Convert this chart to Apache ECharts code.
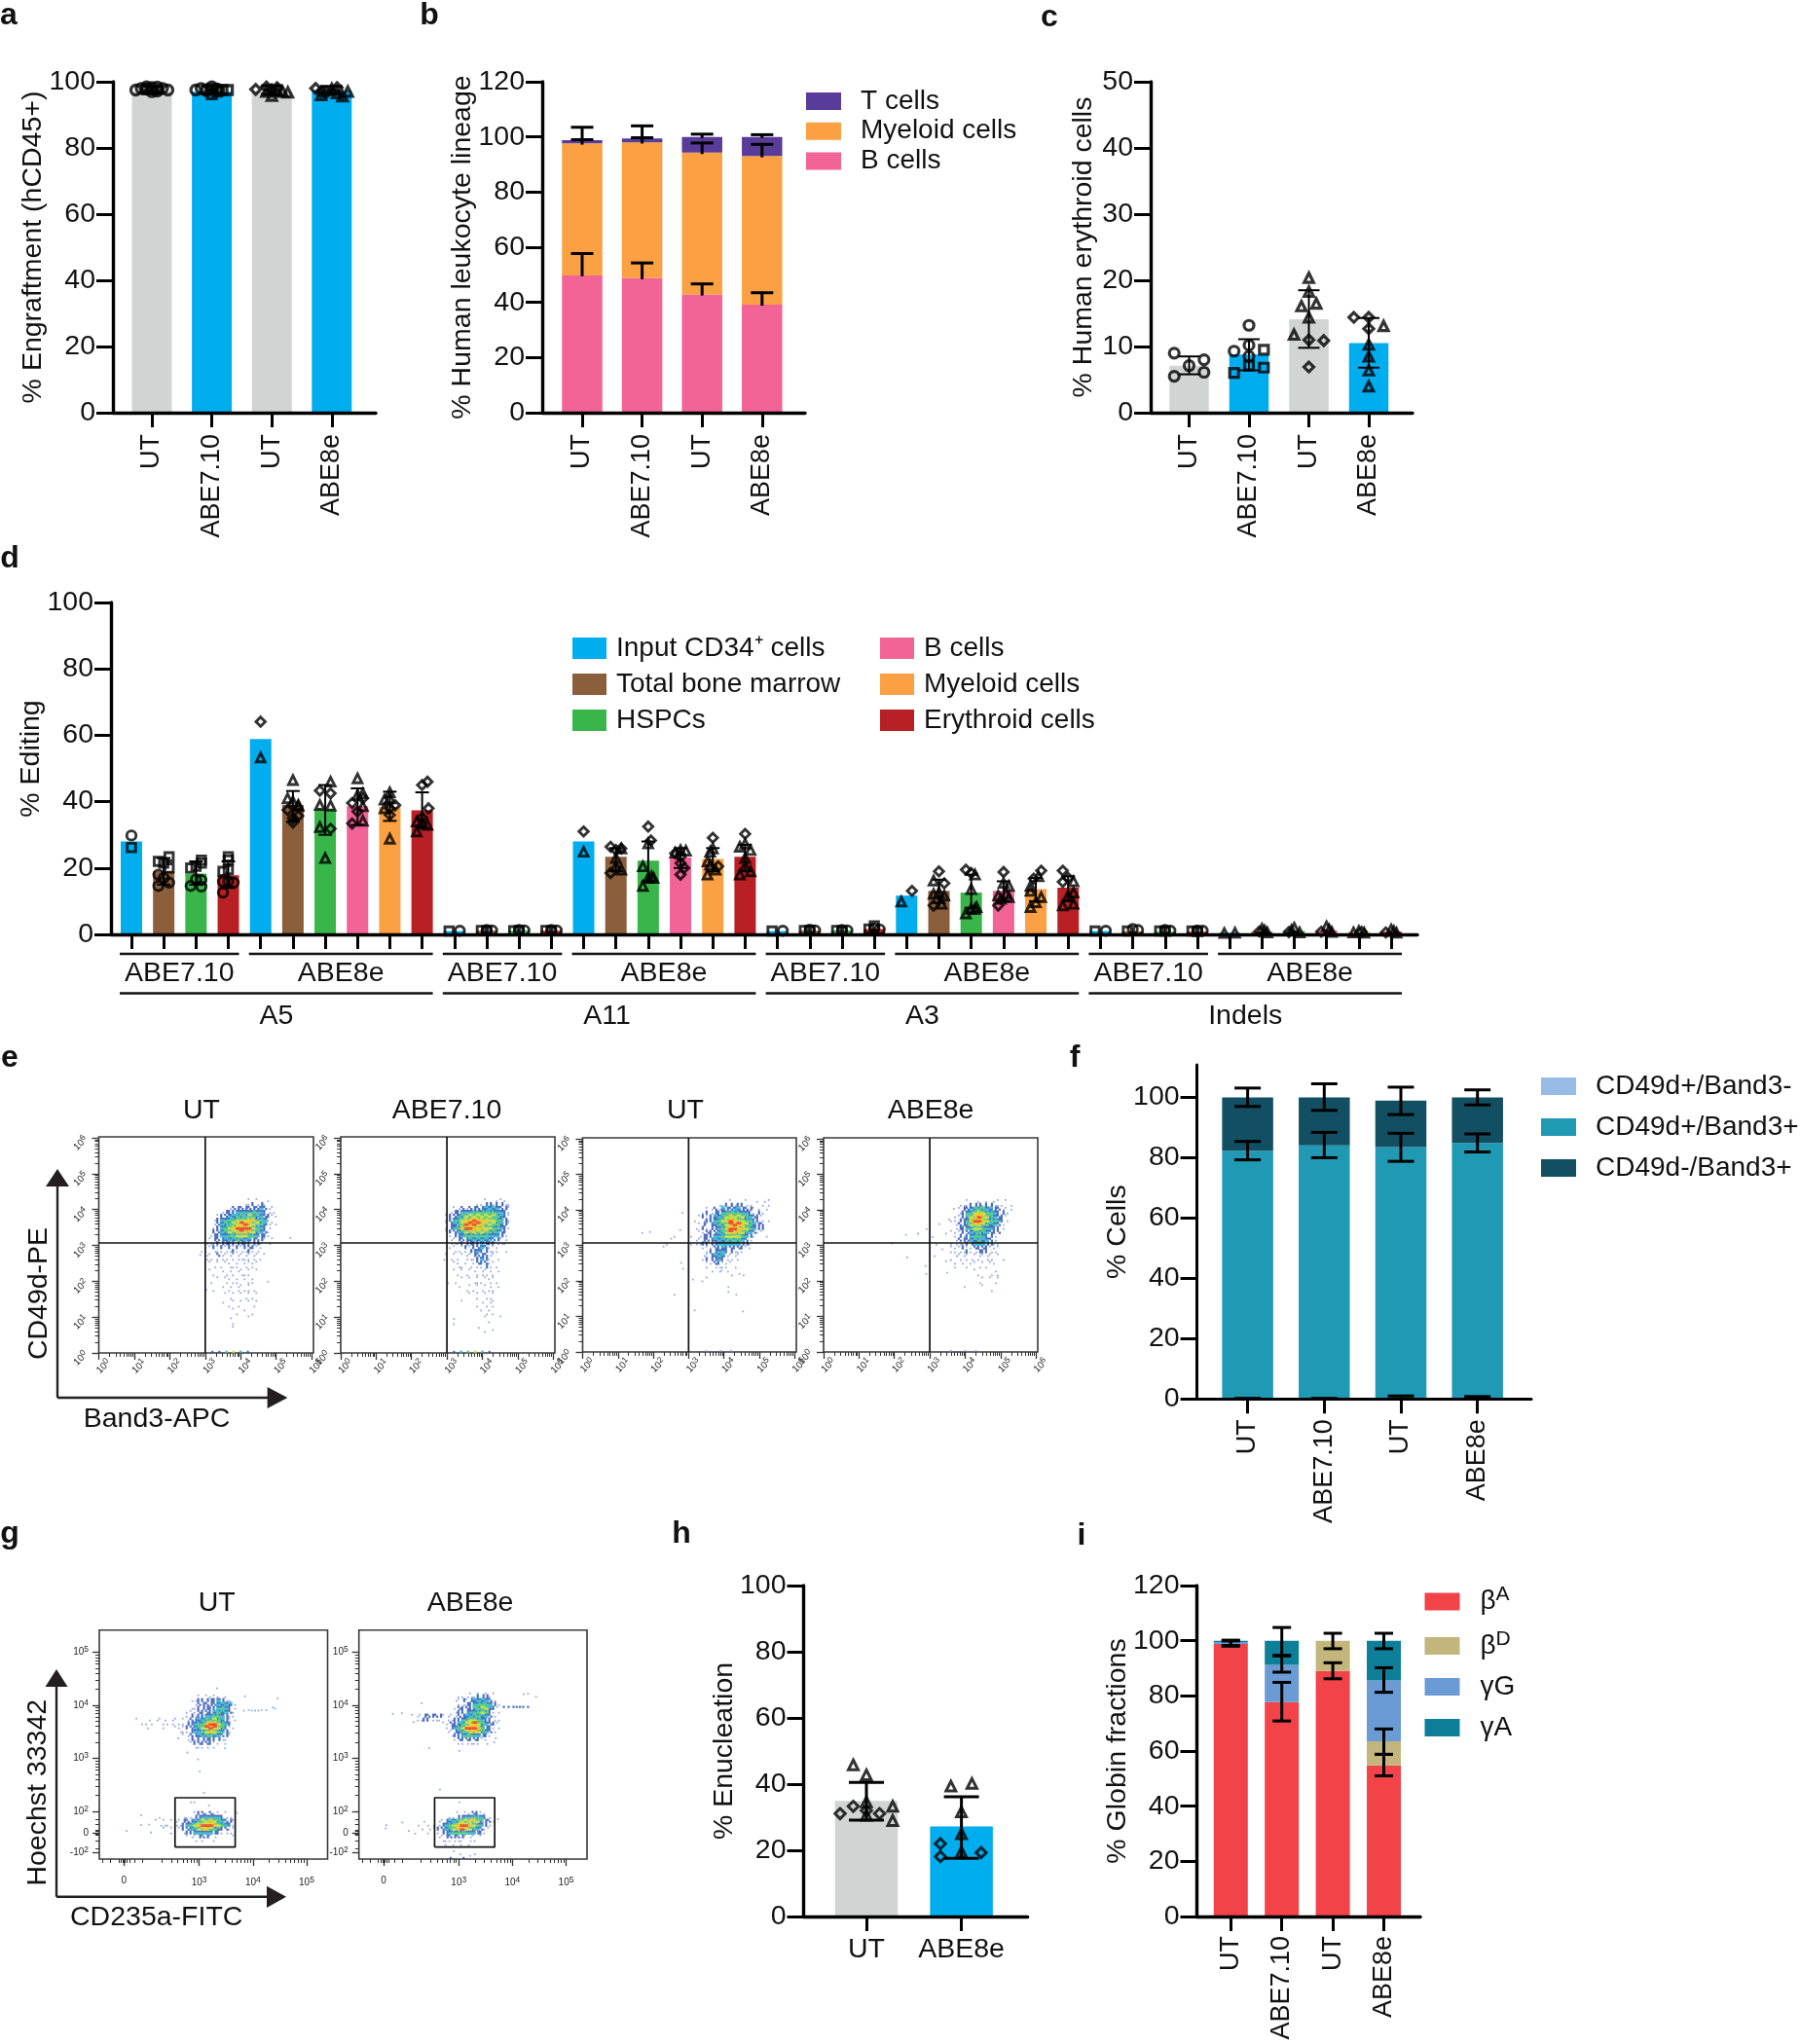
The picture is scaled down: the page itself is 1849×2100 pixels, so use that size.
<!DOCTYPE html>
<html><head><meta charset="utf-8">
<script src="https://cdn.jsdelivr.net/npm/echarts@6/dist/echarts.min.js"></script>
<style>html,body{margin:0;padding:0;background:#fff}#c{width:1849px;height:2100px}</style>
</head><body><div id="c"></div>
<script>
// ---------- categories ----------
const groups4 = ['UT','ABE7.10','UT','ABE8e'];
const groupsH = ['UT','ABE8e'];
const cellTypes = ['Input CD34\u207A cells','Total bone marrow','HSPCs','B cells','Myeloid cells','Erythroid cells'];
const slotTypes = [0,1,2,5,0,1,2,3,4,5];
const sites = ['A5','A11','A3','Indels'];

// ---------- panel a ----------
const aBars = [97,97,97,97.3];
const aCircle = [[0,-3,97.5],[0,-2,98],[0,-1,97.8],[0,0,98.3],[0,1,97.2],[0,2,98],[0,3,97.5],[0,0,97],[0,-1,98.5],[0,1,98.4],[1,-3,97.5],[1,-2,98],[1,-1,97.3],[1,0,98.5],[1,1,97.8]];
const aSquare = [[1,0,96.2],[1,1,97],[1,2,97.5],[1,3,97.5],[1,0,97.8]];
const aDiamond = [[2,-3,97.7],[2,-1,98.4],[2,0,97.6],[2,1,98.2],[3,-3,98],[3,-2,97],[3,-1,96.7],[3,1,98.2]];
const aTriangle = [[2,-1,97],[2,0,95.8],[2,1,97.3],[2,2,97],[2,3,96.8],[3,-2,96],[3,0,97.8],[3,1,96.6],[3,2,95.6],[3,3,97]];
const aErr = [[0,96.4,98.7],[1,96.3,98.8],[2,96.2,98.8],[3,96.2,98.6]];

// ---------- panel b ----------
const bB = [49.8,48.8,42.9,39.2];
const bM = [47.9,49.2,51.4,53.9];
const bT = [1.1,1.4,5.7,6.9];
const bErr = [[0,49.5,57.7,1],[1,48.4,54.3,1],[2,42.5,46.7,1],[3,38.8,43.5,1],[0,97.2,99,1],[1,97.6,99.7,1],[2,93.8,97.8,1],[3,92.6,97.3,1],[0,98.4,103.5,1],[1,99,104,1],[2,99.6,101,1],[3,99.6,100.8,1]];

// ---------- panel c ----------
const cBars = [7.1,8.8,14.1,10.5];
const cErr = [[0,5.8,8.5],[1,6.4,11.1],[2,9.8,18.5],[3,6.8,14.3]];
const cCircle = [[0,-1,9],[0,-1,5.5],[0,0,7.1],[0,1,8],[0,1,6.1],[1,0,13.2],[1,-1,9.3],[1,0,10.2],[1,0,8.5]];
const cSquare = [[1,1,9.5],[1,0,7.1],[1,1,6.8],[1,-1,6]];
const cTriangle = [[2,0,20.4],[2,0,18.3],[2,-0.5,16.1],[2,0.5,16.5],[2,0,14.4],[2,-1,11.8],[3,1,13.1],[3,0,10.3],[3,0,8.5],[3,0,6.4],[3,0,4]];
const cDiamond = [[2,0,11],[2,1,10.9],[2,0,6.9],[3,-1,14.4],[3,0,14.4],[3,0,12.7]];

// ---------- panel d ----------
const editA5 = [28,19,18.3,17.8,58.9,39,37.6,38.6,38.4,37.4];
const editA11 = [1,1.1,1.1,1.1,28,23.4,22.2,23.2,22.7,23.4];
const editA3 = [1,1.1,1.2,1.6,11.7,13.1,12.6,13.1,13.6,14.1];
const editIndels = [1,0.9,0.8,0.8,0.5,0.8,1,1.2,0.7,0.8];
const dErr = [[1,15,23],[2,15,22],[3,14,22],[5,34,43.2],[6,30,45],[7,33,44],[8,34.2,43],[9,32,42.8],
 [15,19,26],[16,16,28],[17,20,26],[18,19,26],[19,19,27],[25,9.5,16.5],[26,8,18],[27,10,16],[28,10,17],[29,10,17.5]];
const dCircle = [[0,0,29.8],[1,-1,18],[1,-1,14.6],[1,1,15.6],[1,0,17],[2,-1,14.6],[2,1,14.4],[2,1,16.4],[2,0,16.6],[3,-1,12.6],[3,-1,15.9],[3,1,15.6],[3,0,16],
 [10,1,1.1],[11,1,1.2],[11,0,1.3],[12,1,1.2],[12,0,1.3],[13,1,1.2],[13,0,1.3],[20,1,1.1],[21,1,1.2],[21,0,1.4],[22,1,1.2],[22,0,1.3],[23,1,1.5],[23,0,1.8],
 [30,1,1.1],[31,1,1.3],[31,0,1.6],[32,1,1.1],[32,0,1.3],[33,1,1.1],[33,0,1.2]];
const dSquare = [[0,0,26.2],[1,-1,22],[1,1,23.4],[1,1,20],[1,0,21.5],[2,-1,20],[2,1,22.4],[2,1,21.5],[2,0,20.5],[3,0,23.4],[3,0,22.4],[3,0,19.5],[3,-1,19],
 [10,-1,1],[11,-1,1.2],[11,0,1.1],[12,-1,1.1],[12,0,1.2],[13,-1,1.2],[13,0,1.1],[20,-1,1],[21,-1,1.2],[21,0,1.2],[22,-1,1.2],[22,0,1.1],[23,-1,1.6],[23,0,2.6],
 [30,-1,1],[31,-1,1],[32,-1,1],[32,0,1],[33,-1,1],[33,0,0.9]];
const dTriangle = [[4,0,53.3],[5,0,46.5],[5,-1,41],[5,1,39],[5,1,38.6],[5,0,40],[6,1,46],[6,-1,39],[6,1,38.8],[6,-1,32.3],[6,0,23],[7,0,47],[7,1,42.5],[7,1,38.6],[7,1,34.2],[7,0,42],[8,0,42.8],[8,-1,40.6],[8,0,28.8],[8,0,41],[8,-1,38],[9,-1,31],[9,1,33],[9,0,33.7],[9,-1,34],
 [14,0,24.9],[15,0,23],[15,1,19.5],[15,0,20.5],[15,1,25.9],[16,0,27.4],[16,-1,20.5],[16,-1,14.6],[16,0,17],[16,1,17],[16,0.6,17.5],[17,-1,24.6],[17,1,25.2],[17,0,25.4],[18,0,25.9],[18,-0.5,24.9],[18,-1,22],[18,-1,18],[18,0.5,19.5],[18,-0.5,21],[19,-1,26.4],[19,1,25.4],[19,0,27.3],[19,0,23],[19,-1,18],[19,1,19],[19,0,20.5],
 [24,-1,9.9],[25,-1,16.2],[25,0,12.6],[25,1,11.7],[25,-1,12.2],[25,0.5,9.2],[26,0.7,18],[26,0,13.6],[26,1,8.2],[26,0,7.7],[26,-1,6.3],[26,0.7,7.7],[27,1,14.6],[27,0,15.5],[27,-1,11.7],[27,0.5,12.2],[27,1,11.2],[27,-0.5,10.7],[28,0.5,17.5],[28,-1,13.1],[28,1,11.2],[28,0,9.7],[28,-1,8.2],[28,-1,14.6],[29,1,16],[29,1,12.6],[29,0,11.7],[29,-1,8.7],[29,1,9.2],
 [34,-1,0.4],[34,1,0.5],[35,0,1.7],[35,0.5,1.2],[35,1,0.6],[36,0,2],[36,-0.5,1.3],[36,1,0.6],[37,0,2.4],[37,0.5,1.5],[37,1,0.7],[38,0,1],[38,1,0.5],[38,-1,0.6],[39,0,1.5],[39,0.5,1],[39,1,0.5]];
const dDiamond = [[4,0,64.1],[5,-1,37.5],[5,0,33.7],[5,0,35],[5,1,35.7],[6,-1,43.3],[6,1,42.5],[6,1,31.8],[7,-1,39.6],[7,-1,33.4],[7,0,37],[7,1,41],[8,1,38.9],[8,0,36],[8,0,38],[9,1,46],[9,0,45],[9,1.2,38],[9,0,35.2],
 [14,0,31],[15,-1,26.4],[15,1,25.9],[15,-1,18.5],[15,0,25.4],[16,0,32.5],[16,0.5,28.3],[17,-1,24.4],[17,0,21.5],[17,0,18],[17,0.7,20],[17,0,23.4],[18,0,29.1],[18,1,20.5],[19,0,30.3],
 [24,1,13.1],[25,0,19],[25,1,15.4],[25,-1,8.7],[26,-1,19.5],[26,0,18.5],[27,0,18.8],[27,-1,8.7],[28,1,19.2],[28,-0.4,16.8],[29,-1,19.2],[29,-1,15.8],[29,0,17],
 [35,-0.5,0.9],[36,-1,0.7],[37,-1,0.8],[38,0.5,0.8],[39,-1,0.6]];

// ---------- panel f ----------
const fA = [0.1,0.1,0.3,0.2];
const fB = [82.2,84,83.2,84.7];
const fC = [17.7,15.9,15.4,15.1];
const fErr = [[0,0,0.2],[1,0,0.2],[2,0,1],[3,0,0.8],[0,79.3,85.4],[1,80,88.4],[2,78.8,88.1],[3,81.9,87.9],[0,97,103.1],[1,95.7,104.5],[2,94.3,103.4],[3,97.5,102.5]];

// ---------- panel h ----------
const hBars = [34.9,27.2];
const hErr = [[0,29.1,40.5],[1,17.6,36.2]];
const hTriangle = [[0,-1,45.8],[0,0,42.8],[0,2,33.3],[0,2,29],[0,0,34.6],[0,0,30.6],[1,-0.8,39.4],[1,0.8,40.2],[1,0,31.6],[1,0,25],[1,0,19.5]];
const hDiamond = [[0,-2,31.1],[0,-1,33.3],[0,1,31.1],[0,0,32],[1,-1.6,22],[1,-1.6,18.1],[1,1.5,19.3]];

// ---------- panel i ----------
const iBA = [98.8,77.7,89,54.8];
const iBD = [0,0,11,8.7];
const iGG = [0.7,13.5,0,22.1];
const iGA = [0.5,8.8,0,14.4];
const iErr = [[0,98,99.9],[0,98.3,100.2],[1,70.9,84.9],[1,88.6,94.5],[1,94.7,104.8],[2,86.2,92],[2,97.1,102.7],[3,51,58.8],[3,58.8,68],[3,81.3,90.2],[3,97.1,102.7]];

// ---------- flow cytometry density (digit = density level, 0 = empty) ----------
const e1Rows = ["00000000000010100100","00000000000112121000","00000001222222232110","00000122233334332110","00001223344454432210","00012334455566443100","00012344567765543110","00012345677775432100","00022345567665432100","00122334455544322100","00122233343332221010","01112222222222210100","01121212121222110000","11011111211121100000","01102111111111101000","01101110111111010000","00101011010111100000","00010101110101000000","00100101011010100000","00010010101110000000","00001011010101000000","00100010110011000000","00000101011010000000","00010001010111000000","00000010101010100000","00000001000101000000","00000100101010100000","00000001010001000000","00000000100100000000","00000000010001000000","00000001000010000000","00000000000000000000","00000000100000000000"];
const e1Dots = [[5.4,3.21],[4.99,3.8],[4.99,3.58],[4.77,1.99],[2.86,2.73],[3.03,1.76],[3.78,0.73],[3.2,0.03,2],[3.4,0.03,2],[3.6,0.03,4],[3.8,0.03,5],[4,0.03,3],[4.2,0.03,2]];
const e2Rows = ["00000000001001110","00000000112212211","00112122223333221","01223334444443321","12234555555554321","12345667666554421","12345777765554321","12346776665544321","12234556555443220","01223444444333210","01122233333322110","01112222232221110","01101212232111000","00110122322111010","10101112222110000","01010111232101000","00110101222110000","00011010112101000","00101011011101000","00010100111010000","00001010101110000","00100001110101000","00010010101101000","00000101010110000","00000010101010000","00000000101100000","00001000010110000","00000000101010000","00000000010100000","00000000001010000","00000000001000100","00000000000100000","00100000000000000","00000000000010000","00000000001000000"];
const e2Dots = [[2.93,2.6],[3.03,1.95],[3.2,0.95],[3.9,0.7],[4.35,3.9],[3.2,0.03,2],[3.4,0.03,3],[3.6,0.03,4],[3.8,0.03,5],[4,0.03,3],[4.2,0.03,2]];
const e3Rows = ["0000000000100010010110","0000000112212211001010","0000112132233222110100","0001212234444332121000","0012123345655543221000","0101223456765544221010","0012123445777654322000","0102122346776654322000","0011222345766543211000","1012223345555432100100","0112223334444321000000","1112222333333221000000","0001112232222211000000","0000122332211100000000","0001123331111000000000","0001222321101000000000","0000112211100000000000","0000101111010000000000","0000010101000000000000","0000000000100100000000","0000100000000000000000"];
const e3Dots = [[2.83,3.92],[1.91,3.38],[1.69,3.35],[2.76,3.43],[2.6,3.24],[2.51,3.19],[2.38,3.02],[2.29,2.97],[2.79,2.51],[2.84,2.34],[2.6,1.61],[3.17,1.17],[4.54,1.14],[3.12,2.04],[3.39,1.99],[4.13,1.83],[4.13,1.69],[4.35,1.61],[3.94,2.29],[4.44,2.2],[3.5,0.03],[3.9,0.03],[4.2,0.03]];
const e4Rows = ["0000100101011010","0011122212211101","0012234443322111","0012345654432210","0112456765432210","1122367765443210","0122456654332100","0122345543322100","1112234443222000","0121234432210000","0122233433210000","1111223332211000","1112112222111000","1111211222110000","0111101111101000","1010110101100100","0101011010110000","0100100101000000","0000001000010000","0000000100101000","0000000010101000","0000000100010000","0001000010000000","0000000000100000"];
const e4Dots = [[1.94,3.06],[2.33,3.3],[2.67,3.33],[2.36,2.66],[2.91,3.46],[2.88,2.42],[2.9,2.2],[3.08,3.24],[3.27,3.6],[3.46,3.33],[3.19,3.02],[3.36,2.89],[3.13,2.7],[3.46,2.56],[3.49,2.23],[3.55,3.73],[3.68,4.03],[3.6,0.03],[4,0.03],[4.3,0.03]];
const g1Upper = ["000000000000000010111101000","000000000000001122222321100","000000000000000122222333310","000000000000001122222343210","000000000000011122223433210","000000000000012122334432110","100101110110112233445432110","011010011101122344677543200","000100010011122345777542110","000000000001112334565432100","000000000000112233443322100","000000000000012122222211000","000000000000001222221101000","000000000000000111101000000"];
const g1Lower = ["000000000012212110100","010000011122333332110","101011122234556543221","011101123456777654321","001010122345665432211","000010012233333221110","000000001112221100001","000000000010100100000"];
const g1Dots = [[3.83,3.9],[3.92,3.91],[3.98,3.9],[4.04,3.9],[4.1,3.9],[4.16,3.91],[4.25,3.91],[4.37,3.96],[4.41,3.94],[4.46,4.13],[3.85,4.17],[3.33,4.32],[2.61,3.38],[2.78,3.11],[2.98,2.98],[3.01,2.75],[3.09,2.35],[3.48,3.19],[1.92,1.93],[1.92,1.74],[1.65,1.63],[2.07,1.75],[2.1,1.6],[2.85,2.17],[2.91,2.17],[3.18,2.11],[3.7,1.97]];
const g2Upper = ["00000000000000010101010","00000000000011111222100","00000000000112123333210","00000000000011223444321","00000000000122224455321","00000000000122233454211","11122222111122334433210","01122111011223455432211","00000000112234567543221","00000000012345777642211","00000000011234566543210","00000000001223443322100","00000000000122222211000","00000000000011111101000"];
const g2Lower = ["00000000001011221100","00000000112233443210","01000112334556654221","10101123456776543210","01011223456765432110","00100122344443322100","00000112222211101000","00000011111101100000","00000001010101000000"];
const g2Dots = [[3.84,3.97,2],[3.93,3.97,2],[4.02,3.97,2],[4.08,3.97,2],[4.14,3.97,2],[4.2,3.97,2],[4.29,3.97,2],[4.29,4.22],[4.21,4.21],[4.44,4.16],[1.77,3.84],[1.94,3.85],[2.31,4.04],[2.16,3.68],[2.45,3.19],[3.01,3.14],[3.66,3.3],[3.69,3.38],[2.65,2.41],[1.65,1.74],[1.64,1.68],[1.95,1.79],[2.07,1.63],[2.19,1.58],[3.01,2.17],[3.73,1.85],[2.91,1.25],[3.03,1.19],[3.21,1.16],[3.3,1.19],[2.85,1.12,2],[3.09,1.12,2]];
const eQuadX = 3, eQuadY = 3.07;
const gGateX = [2.55,3.67], gGateY = [1.327,2.257];

// ---------- styles ----------
const FONT = '"Liberation Sans", Arial, sans-serif';
const FS = 28.5, FSX = 27, FSL = 28;
const GREY='#d2d3d3', BLUE='#00aeef';
const barColors4 = [GREY,BLUE,GREY,BLUE];
const typeColors = ['#00aeef','#8b5e3c','#39b54a','#f26496','#fba043','#b92025'];
const LEVEL = [null,'#7f96d6','#1f47ad','#2fb0d2','#45c47f','#c3dd39','#f5c11c','#ee3a1d'];
const LEVEL_SIZE = [0,1.8,2.2,2.7,2.7,2.7,2.7,2.7];

const option = {
  animation:false, backgroundColor:'#fff',
  textStyle:{fontFamily:FONT,color:'#111'},
  grid:[], xAxis:[], yAxis:[], series:[], legend:[], graphic:{elements:[]}
};
const G = option.graphic.elements;
function txt(x,y,text,size,rot,bold){
  G.push({type:'text',x,y,rotation:rot||0,z:20,silent:true,style:{text,x:0,y:0,fill:'#111',
    font:(bold?'bold ':'')+size+'px '+FONT,textAlign:'center',textVerticalAlign:'middle'}});
}
function seg(x1,y1,x2,y2,w,c){
  G.push({type:'line',z:20,silent:true,shape:{x1,y1,x2,y2},style:{stroke:c||'#111',lineWidth:w}});
}
function tri(points){ G.push({type:'polygon',z:20,silent:true,shape:{points},style:{fill:'#231f20'}}); }
function range(a,b,s){const o=[];for(let v=a;v<=b+1e-9;v+=s)o.push(v);return o;}

function errorSeries(data,xi,yi,cap,lw){
  return {type:'custom',xAxisIndex:xi,yAxisIndex:yi,z:7,silent:true,clip:false,data,
    encode:{x:0,y:[1,2]},
    renderItem(p,api){
      const x=api.value(0),lo=api.coord([x,api.value(1)]),hi=api.coord([x,api.value(2)]),noLow=api.value(3)===1;
      const st={stroke:'#000',lineWidth:lw};
      const ch=[{type:'line',shape:{x1:hi[0],y1:hi[1],x2:lo[0],y2:lo[1]},style:st},
                {type:'line',shape:{x1:hi[0]-cap,y1:hi[1],x2:hi[0]+cap,y2:hi[1]},style:st}];
      if(!noLow) ch.push({type:'line',shape:{x1:lo[0]-cap,y1:lo[1],x2:lo[0]+cap,y2:lo[1]},style:st});
      return {type:'group',children:ch};
    }};
}
function pointSeries(name,symbol,pts,cfg,xi,yi){
  const u = cfg.colPx/cfg.step;
  const sz = symbol==='triangle' ? cfg.sym*0.95 : symbol==='rect' ? cfg.sym*0.9 : cfg.sym;
  return {type:'scatter',name,xAxisIndex:xi,yAxisIndex:yi,z:8,silent:true,clip:false,symbol,symbolSize:sz,
    itemStyle:{color:'rgba(0,0,0,0)',borderColor:'#000',borderWidth:cfg.symW||2.6},
    data:pts.map(p=>[p[0]+p[1]*u,p[2]])};
}
// frame grid (axes lines, y axis, points, error bars) + band grid (bars, category ticks and labels)
function panel(cfg){
  const gf=option.grid.length;
  const h=cfg.B-cfg.T;
  option.grid.push({left:cfg.L,top:cfg.T,width:cfg.R-cfg.L,height:h});
  const n=cfg.cats.length;
  option.grid.push({left:cfg.first-cfg.step/2,top:cfg.T,width:cfg.step*n,height:h});
  const xf=option.xAxis.length, yf=option.yAxis.length;
  const lw=cfg.axisW||3.4;
  option.xAxis.push({gridIndex:gf,type:'value',min:(cfg.L-cfg.first)/cfg.step,max:(cfg.R-cfg.first)/cfg.step,z:6,
    axisLine:{show:true,onZero:false,lineStyle:{color:'#000',width:lw}},axisTick:{show:false},axisLabel:{show:false},splitLine:{show:false}});
  option.yAxis.push({gridIndex:gf,type:'value',min:0,max:cfg.max,z:6,
    axisLine:{show:true,onZero:false,lineStyle:{color:'#000',width:lw}},
    axisTick:{show:true,length:17,customValues:cfg.ticks,lineStyle:{color:'#000',width:3}},
    axisLabel:{customValues:cfg.ticks,margin:18,fontSize:FS,color:'#111',fontFamily:FONT},
    splitLine:{show:false},
    name:cfg.title,nameLocation:'middle',nameGap:cfg.nameGap,nameRotate:90,nameMoveOverlap:false,
    nameTextStyle:{fontSize:FS,color:'#111',fontFamily:FONT,padding:cfg.namePad||0}});
  option.xAxis.push({gridIndex:gf+1,type:'category',data:cfg.cats,z:6,
    axisLine:{show:false},
    axisTick:{show:true,alignWithLabel:true,interval:0,length:15,lineStyle:{color:'#000',width:3}},
    axisLabel:cfg.noLabels?{show:false}:{interval:0,rotate:cfg.rot===undefined?90:cfg.rot,margin:cfg.labelMargin||22,fontSize:cfg.rot===0?FS:FSX,color:'#111',fontFamily:FONT},
    splitLine:{show:false}});
  option.yAxis.push({gridIndex:gf+1,type:'value',min:0,max:cfg.max,show:false,splitLine:{show:false}});
  cfg.bars.forEach(b=>{
    option.series.push({type:'bar',name:b.name,stack:'s'+gf,xAxisIndex:xf+1,yAxisIndex:yf+1,z:2,
      barWidth:cfg.barW,silent:true,itemStyle:{color:b.color},
      data:b.colors?b.data.map((v,i)=>({value:v,itemStyle:{color:b.colors[i]}})):b.data});
  });
  if(cfg.err) option.series.push(errorSeries(cfg.err,xf,yf,cfg.cap,cfg.errW||3));
  (cfg.points||[]).forEach(p=>option.series.push(pointSeries(p[0],p[1],p[2],cfg,xf,yf)));
}
function makeLegend(names,left,top,w,h,gap,pad,extra){
  option.legend.push(Object.assign({data:names,left,top,orient:'vertical',padding:0,itemGap:gap,itemWidth:w,itemHeight:h,
    icon:'rect',selectedMode:false,align:'left',
    textStyle:{fontSize:FSL,color:'#111',fontFamily:FONT,lineHeight:h,padding:[0,0,0,pad]}},extra||{}));
}

// flow panels
function logMinors(a,b){const o=[];for(let d=a;d<b;d++)for(let k=2;k<10;k++)o.push(d+Math.log10(k));return o;}
// each density cell becomes a few tiny dots on a 2x2 sub-lattice, so that dense regions look speckled as in the picture
function cellsOf(rows,x0,y0,dx,dy){
  const out=[]; const subs=[[0,0],[.5,.5],[.5,0],[0,.5]];
  rows.forEach((row,r)=>[...row].forEach((ch,c)=>{
    const l=+ch; if(!l) return;
    const count=l===1?1:l===2?2:4, start=(r*r*3+c*c*7+r*c)%4;
    for(let k=0;k<count;k++){
      const s=subs[(start+k)%4];
      const lv=l>=3?(k===3?Math.max(2,l-2):k===1?l-1:l):l;
      out.push([x0+(c+s[0])*dx,y0-(r+s[1])*dy,lv]);
    }
  }));
  return out;
}
function flowPanel(cfg){
  const gi=option.grid.length;
  option.grid.push({show:true,left:cfg.L,top:cfg.T,width:cfg.R-cfg.L,height:cfg.B-cfg.T,borderColor:'#3a3a3a',borderWidth:1.6,backgroundColor:'transparent'});
  const xi=option.xAxis.length, yi=option.yAxis.length;
  const common=(fmt,rot,margin,extraLabel)=>({fontSize:9,color:'#222',rotate:rot,margin,formatter:fmt,fontFamily:FONT,
     rich:{b:{fontSize:cfg.lab,color:'#222',fontFamily:FONT},s:{fontSize:cfg.lab-1.5,color:'#222',verticalAlign:'top',padding:[0,0,5,0],fontFamily:FONT}},...extraLabel});
  const tickStyle={color:'#333',width:1.3};
  option.xAxis.push({gridIndex:gi,type:'value',min:cfg.xr[0],max:cfg.xr[1],splitLine:{show:false},axisLine:{show:false,onZero:false},
    axisTick:{show:true,length:7,customValues:cfg.xMajor,lineStyle:tickStyle},
    axisLabel:{customValues:cfg.xMajor,...common(cfg.fmt,cfg.rotX,cfg.marginX,cfg.labelX)}});
  option.yAxis.push({gridIndex:gi,type:'value',min:cfg.yr[0],max:cfg.yr[1],splitLine:{show:false},axisLine:{show:false,onZero:false},
    axisTick:{show:true,length:7,customValues:cfg.yMajor,lineStyle:tickStyle},
    axisLabel:{customValues:cfg.yMajor,...common(cfg.fmt,cfg.rotY,cfg.marginY,cfg.labelY)}});
  option.xAxis.push({gridIndex:gi,type:'value',min:cfg.xr[0],max:cfg.xr[1],position:'bottom',splitLine:{show:false},axisLine:{show:false,onZero:false},
    axisTick:{show:true,length:4,customValues:cfg.xMinor,lineStyle:{color:'#333',width:1}},axisLabel:{show:false}});
  option.yAxis.push({gridIndex:gi,type:'value',min:cfg.yr[0],max:cfg.yr[1],position:'left',splitLine:{show:false},axisLine:{show:false,onZero:false},
    axisTick:{show:true,length:4,customValues:cfg.yMinor,lineStyle:{color:'#333',width:1}},axisLabel:{show:false}});
  let pts=[];
  cfg.blocks.forEach(b=>pts=pts.concat(cellsOf(b.rows,b.x,b.y,cfg.dx,cfg.dy)));
  pts=pts.concat(cfg.dots.map(d=>[d[0],d[1],d[2]||1]));
  pts.sort((a,b)=>a[2]-b[2]);
  option.series.push({type:'scatter',xAxisIndex:xi,yAxisIndex:yi,z:3,silent:true,clip:true,symbol:'rect',
    symbolSize:v=>LEVEL_SIZE[v[2]],itemStyle:{color:p=>LEVEL[p.value[2]]},data:pts,encode:{x:0,y:1}});
  cfg.gates.forEach(g=>option.series.push({type:'line',xAxisIndex:xi,yAxisIndex:yi,z:4,silent:true,symbol:'none',
    lineStyle:{color:'#111',width:1.7},data:g}));
}

// ---------- build panels ----------
const hollow=(c,s,t,di)=>[['Circle','circle',c],['Square','rect',s],['Triangle','triangle',t],['Diamond','diamond',di]].filter(x=>x[2]).map(x=>[x[0],x[1],x[2]]);
panel({L:116,R:386,T:84,B:424,first:156,step:61.6,barW:41,cats:groups4,max:100,ticks:range(0,100,20),title:'% Engraftment (hCD45+)',nameGap:67,
  bars:[{name:'Engraftment',data:aBars,colors:barColors4}],err:aErr,cap:11,colPx:5.5,sym:10,symW:3.3,points:hollow(aCircle,aSquare,aTriangle,aDiamond)});
panel({L:557,R:827,T:84,B:424,first:598,step:61.6,barW:41.5,cats:groups4,max:120,ticks:range(0,120,20),title:'% Human leukocyte lineage',nameGap:67,
  bars:[{name:'B cells',data:bB,color:'#f26496'},{name:'Myeloid cells',data:bM,color:'#fba043'},{name:'T cells',data:bT,color:'#593c9a'}],err:bErr,cap:11.5,colPx:5});
panel({L:1182,R:1451,T:84,B:424,first:1221.5,step:61.5,barW:40.5,cats:groups4,max:50,ticks:range(0,50,10),title:'% Human erythroid cells',nameGap:54,
  bars:[{name:'Erythroid',data:cBars,colors:barColors4}],err:cErr,cap:11,errW:2,colPx:15.3,sym:10,symW:3.2,points:hollow(cCircle,cSquare,cTriangle,cDiamond)});

const dCats=[]; const dVals=[editA5,editA11,editA3,editIndels];
sites.forEach(s=>slotTypes.forEach((t,i)=>dCats.push(s+' '+(i<4?'ABE7.10':'ABE8e')+' '+cellTypes[t])));
const dBars=cellTypes.map((name,t)=>({name,color:typeColors[t],data:dVals.flatMap(g=>g.map((v,i)=>slotTypes[i]===t?v:null))}));
const dFirst=135,dStep=33.18;
panel({L:114,R:1456,T:619,B:960,first:dFirst,step:dStep,barW:22,cats:dCats,max:100,ticks:range(0,100,20),title:'% Editing',nameGap:67,namePad:[0,0,0,20],noLabels:true,
  bars:dBars,err:dErr,cap:7,errW:2,colPx:5.5,sym:9.5,symW:2.9,points:hollow(dCircle,dSquare,dTriangle,dDiamond)});
// bracket lines and group names for panel d
const tickPx=i=>dFirst+i*dStep;
const siteLabelShift=[0,8,0,0];
sites.forEach((s,k)=>{
  const o=k*10;
  const a1=tickPx(o)-12,a2=tickPx(o+3)+11,b1=tickPx(o+4)-12,b2=tickPx(o+9)+11;
  seg(a1,980,a2,980,2.4); seg(b1,980,b2,980,2.4); seg(a1,1020.5,b2,1020.5,2.4);
  txt((a1+a2)/2,1000,'ABE7.10',FS); txt((b1+b2)/2,1000,'ABE8e',FS); txt((a1+b2)/2+siteLabelShift[k],1044.5,s,FS);
});

panel({L:1229.6,R:1573,T:1094,B:1437.3,first:1281.6,step:78.7,barW:52.5,cats:groups4,max:110.8,ticks:range(0,100,20),title:'% Cells',nameGap:67,axisW:3,labelMargin:21,
  bars:[{name:'CD49d+/Band3-',data:fA,color:'#97bde6'},{name:'CD49d+/Band3+',data:fB,color:'#2099b4'},{name:'CD49d-/Band3+',data:fC,color:'#124f63'}],err:fErr,cap:13.5,colPx:5});
panel({L:825.5,R:1055.6,T:1629,B:1969,first:890,step:97.6,barW:64.5,cats:groupsH,max:100,ticks:range(0,100,20),title:'% Enucleation',nameGap:67,rot:0,labelMargin:20,
  bars:[{name:'Enucleation',data:hBars,colors:[GREY,BLUE]}],err:hErr,cap:18,colPx:13.5,sym:10.5,symW:3,points:hollow(null,null,hTriangle,hDiamond)});
panel({L:1229.5,R:1459,T:1629,B:1969,first:1264.3,step:52.4,barW:35,cats:groups4,max:120,ticks:range(0,120,20),title:'% Globin fractions',nameGap:67,labelMargin:20,
  bars:[{name:'\u03B2A',data:iBA,color:'#f24348'},{name:'\u03B2D',data:iBD,color:'#c2b67c'},{name:'\u03B3G',data:iGG,color:'#6a9bd5'},{name:'\u03B3A',data:iGA,color:'#0d7f99'}],err:iErr,cap:9.5,colPx:5});

makeLegend(['T cells','Myeloid cells','B cells'],828,90,36,18,2.7,15);
makeLegend(cellTypes.slice(0,3),588,652,35,22,9,5);
makeLegend(cellTypes.slice(3),904,652,35,22,9,5);
makeLegend(['CD49d+/Band3-','CD49d+/Band3+','CD49d-/Band3+'],1583,1102,36,18,14,15);
makeLegend(['\u03B2A','\u03B2D','\u03B3G','\u03B3A'],1463.5,1628,36,18,14,16,{
  formatter:n=>n[0]==='\u03B2'?'{n|\u03B2}{s|'+n[1]+'}':n,
  textStyle:{fontSize:FSL,color:'#111',fontFamily:FONT,lineHeight:18,padding:[0,0,0,16],
    rich:{n:{fontSize:FSL,fontFamily:FONT,color:'#111'},s:{fontSize:21,fontFamily:FONT,color:'#111',padding:[0,0,14,0]}}}});

// e panels
const eFmt=v=>'{b|10}{s|'+Math.round(v)+'}';
const eBase={xr:[0,6.05],yr:[0,6.03],xMajor:[0,1,2,3,4,5,6],yMajor:[0,1,2,3,4,5,6],xMinor:logMinors(0,6),yMinor:logMinors(0,6),
  fmt:eFmt,rotX:45,rotY:45,marginX:19,marginY:13,labelX:{align:'center',verticalAlign:'middle',padding:[0,0,0,14]},labelY:{},lab:10,dx:0.11,dy:0.109};
const eGate=q=>[[[q,0],[q,6.03]],[[0,eQuadY],[6.05,eQuadY]]];
flowPanel({...eBase,L:101.5,R:322,T:1168,B:1390,blocks:[{rows:e1Rows,x:2.9,y:4.29}],dots:e1Dots,gates:eGate(eQuadX)});
flowPanel({...eBase,L:350,R:570,T:1168,B:1390,blocks:[{rows:e2Rows,x:2.975,y:4.29}],dots:e2Dots,gates:eGate(eQuadX)});
flowPanel({...eBase,L:598.5,R:818,T:1169,B:1389,blocks:[{rows:e3Rows,x:3.07,y:4.28}],dots:e3Dots,gates:eGate(eQuadX)});
flowPanel({...eBase,L:846,R:1066,T:1169,B:1389,blocks:[{rows:e4Rows,x:3.6,y:4.28}],dots:e4Dots,gates:eGate(eQuadX)});
// g panels
const gFmt=v=>{ if(v<1.3) return '{b|-10}{s|2}'; if(v<2&&v>1.5) return '{b|0}'; return '{b|10}{s|'+Math.round(v)+'}'; };
const gBox=[[gGateX[0],gGateY[0]],[gGateX[1],gGateY[0]],[gGateX[1],gGateY[1]],[gGateX[0],gGateY[1]],[gGateX[0],gGateY[0]]];
const gBase={xr:[1.14,5.39],yr:[1.1,5.42],xMajor:[1.6,3,4,5],yMajor:[1.23,1.6,2,3,4,5],
  xMinor:[1.2,1.35,1.5,1.55,1.58,1.62,1.65,1.7,1.8,1.95,...logMinors(2,5)],yMinor:[1.3,1.45,1.55,1.58,1.62,1.65,1.75,1.85,...logMinors(2,5)],
  fmt:gFmt,rotX:0,rotY:0,marginX:17,marginY:11,labelX:{},labelY:{},lab:10,dx:0.072,dy:0.0734,gates:[gBox]};
flowPanel({...gBase,L:102,R:336.5,T:1674.7,B:1910,blocks:[{rows:g1Upper,x:1.83,y:4.19},{rows:g1Lower,x:2.19,y:1.987}],dots:g1Dots});
flowPanel({...gBase,L:368.7,R:603,T:1674.7,B:1910,blocks:[{rows:g2Upper,x:2.13,y:4.263},{rows:g2Lower,x:2.25,y:1.987}],dots:g2Dots});

// arrows and titles of the flow panels
seg(59,1436,59,1216,2.4,'#231f20'); seg(59,1436,276,1436,2.4,'#231f20');
tri([[59,1201],[47,1219],[71,1219]]); tri([[295.4,1436],[274.6,1425],[274.6,1447]]);
txt(40,1329,'CD49d-PE',FS,Math.PI/2); txt(161,1458,'Band3-APC',FS);
txt(207,1141,'UT',FS); txt(459,1141,'ABE7.10',FS); txt(704,1141,'UT',FS); txt(956,1141,'ABE8e',FS);
seg(58,1948.7,58,1730,2.4,'#231f20'); seg(58,1948.7,276,1948.7,2.4,'#231f20');
tri([[58,1715],[46.5,1733],[69.5,1733]]); tri([[294,1948.7],[274,1937.7],[274,1960]]);
txt(39,1841.7,'Hoechst 33342',FS,Math.PI/2); txt(160.7,1970,'CD235a-FITC',FS);
txt(222.7,1647,'UT',FS); txt(483,1647,'ABE8e',FS);

// panel letters
[['a',9,16],['b',441,16],['c',1078,18],['d',10,574],['e',10,1087],['f',1104,1087],['g',10,1576],['h',700,1576],['i',1111,1578]].forEach(l=>txt(l[1],l[2],l[0],32,0,true));

const chart=echarts.init(document.getElementById('c'),null,{renderer:'canvas',width:1849,height:2100});
chart.setOption(option);
</script></body></html>
